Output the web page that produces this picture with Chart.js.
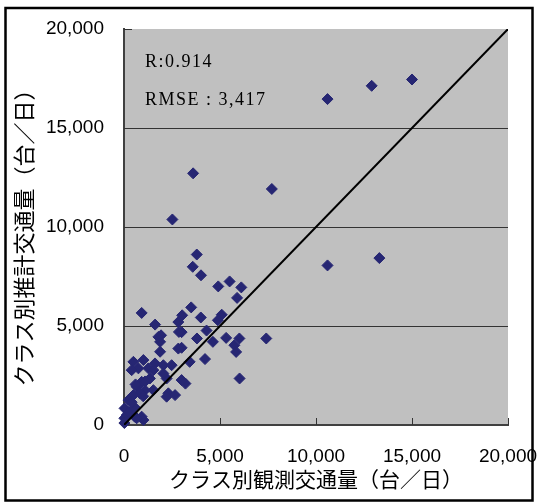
<!DOCTYPE html>
<html lang="ja">
<head>
<meta charset="utf-8">
<title>クラス別観測交通量と推計交通量</title>
<script src="https://cdn.jsdelivr.net/npm/chart.js@4.4.1/dist/chart.umd.min.js"></script>
<style>
  html, body { margin: 0; padding: 0; background: #fff; }
  #wrap { width: 539px; height: 504px; }
</style>
</head>
<body>
<div id="wrap"><canvas id="chart" width="539" height="504"></canvas></div>
<script>
const observed = [
  15000, 12900, 10600, 3600, 7700, 2520, 3790, 3580, 4010, 4910, 5500, 6110, 5890, 10600, 13300,
  3500, 3030, 4000, 5090, 4890, 4300, 3800, 4630, 5320, 6010, 5750, 5840, 7410, 3000, 3000, 3420, 4220, 3200, 6020,
  920, 1620, 1930, 1880, 2830, 2860, 1880, 2830, 2050, 2480, 2220, 2310, 2660,
  490, 750, 400, 1010, 1270, 1350, 920, 660, 1090, 1530, 830, 490, 230, 30, 140, 20, 1010, 20, 920,
  250, 550, 400, 1000, 600, 1100, 560, 2050, 1530, 2220, 1790, 660, 1615, 3000
];
const estimated = [
  17450, 17130, 16460, 12710, 11920, 10380, 8610, 7990, 7560, 7000, 7250, 6950, 6420, 8060, 8430,
  5940, 5540, 5430, 5570, 5290, 4770, 4370, 4200, 4400, 4370, 4030, 3690, 4370, 4690, 3900, 3190, 3330, 2090, 2350,
  5660, 5070, 4530, 4200, 5200, 4700, 3700, 3860, 3020, 3020, 2350, 1600, 1510,
  3190, 2860, 2770, 3280, 2860, 2350, 2180, 1930, 1760, 1760, 1600, 1510, 1260, 840, 500, 340, 250, 100, 420,
  650, 900, 1150, 1450, 2050, 2200, 420, 2600, 2770, 1430, 4450, 340, 3110, 2270
];
const axisTicks = [0, 5000, 10000, 15000, 20000];
const diagonal = [0, 20000];
const statLabels = ['R:0.914', 'RMSE : 3,417'];
const xTitle = 'クラス別観測交通量（台／日）';
const yTitle = 'クラス別推計交通量（台／日）';

const MARKER = '#262673';

// gray plot area + outer frame
const backdrop = {
  id: 'backdrop',
  beforeDraw(chart) {
    const { ctx, chartArea: a } = chart;
    ctx.save();
    ctx.fillStyle = '#fff';
    ctx.fillRect(0, 0, chart.width, chart.height);
    ctx.fillStyle = '#c0c0c0';
    ctx.fillRect(a.left, a.top, a.right - a.left, a.bottom - a.top);
    ctx.restore();
  },
  afterDraw(chart) {
    const { ctx } = chart;
    ctx.save();
    ctx.strokeStyle = '#000';
    ctx.lineWidth = 2.5;
    ctx.strokeRect(5.5, 8, 527, 492.5);
    ctx.restore();
  }
};

// Excel style tick marks pointing into the plot
const innerTicks = {
  id: 'innerTicks',
  beforeDatasetsDraw(chart) {
    const { ctx, chartArea: a, scales } = chart;
    ctx.save();
    ctx.strokeStyle = '#333';
    ctx.lineWidth = 1;
    axisTicks.slice(1).forEach(v => {
      const px = Math.round(scales.x.getPixelForValue(v)) + 0.5;
      ctx.beginPath();
      ctx.moveTo(px, a.bottom);
      ctx.lineTo(px, a.bottom - 7);
      ctx.stroke();
      const py = Math.round(scales.y.getPixelForValue(v)) + 0.5;
      ctx.beginPath();
      ctx.moveTo(a.left, py);
      ctx.lineTo(a.left + 8, py);
      ctx.stroke();
    });
    ctx.restore();
  }
};

// R and RMSE box text
const statsText = {
  id: 'statsText',
  afterDraw(chart) {
    const { ctx, chartArea: a } = chart;
    ctx.save();
    ctx.fillStyle = '#000';
    ctx.font = '18px "Liberation Serif", "DejaVu Serif", serif';
    ctx.letterSpacing = '1.5px';
    ctx.textAlign = 'left';
    ctx.textBaseline = 'alphabetic';
    ctx.fillText(statLabels[0], a.left + 21, a.top + 38);
    ctx.fillText(statLabels[1], a.left + 21, a.top + 76);
    ctx.restore();
  }
};

const tickFont = { family: '"Liberation Sans", Arial, sans-serif', size: 19 };
const jpFont = '"Noto Sans CJK JP", sans-serif';

new Chart(document.getElementById('chart'), {
  type: 'scatter',
  data: {
    datasets: [
      {
        type: 'line',
        data: diagonal.map(v => ({ x: v, y: v })),
        borderColor: '#000',
        borderWidth: 2,
        pointRadius: 0,
        order: 0
      },
      {
        data: observed.map((x, i) => ({ x: x, y: estimated[i] })),
        pointStyle: 'rectRot',
        pointRadius: 5.5,
        backgroundColor: MARKER,
        borderColor: MARKER,
        borderWidth: 1,
        clip: false,
        order: 1
      }
    ]
  },
  options: {
    responsive: false,
    animation: false,
    events: [],
    layout: { padding: { left: 10, right: 31, top: 29, bottom: 12 } },
    plugins: {
      legend: { display: false },
      tooltip: { enabled: false }
    },
    scales: {
      x: {
        type: 'linear',
        min: 0,
        max: 20000,
        afterBuildTicks: s => { s.ticks = axisTicks.map(v => ({ value: v })); },
        afterFit: s => {
          s.height = 67;
          // labels overhang into the layout padding, don't shrink the plot for them
          s.paddingLeft = 0;
          s.paddingRight = 0;
        },
        grid: { display: false, drawTicks: false },
        border: { color: '#404040', width: 2 },
        ticks: {
          color: '#000',
          font: tickFont,
          padding: 20,
          maxRotation: 0,
          autoSkip: false,
          callback: v => v.toLocaleString('en-US')
        },
        title: { display: true, text: xTitle, color: '#000', font: { family: jpFont, size: 21 }, padding: 0 }
      },
      y: {
        type: 'linear',
        min: 0,
        max: 20000,
        afterBuildTicks: s => { s.ticks = axisTicks.map(v => ({ value: v })); },
        afterFit: s => {
          s.width = 114;
          s.paddingTop = 0;
          s.paddingBottom = 0;
        },
        grid: {
          drawTicks: false,
          lineWidth: 1,
          color: c => (c.tick && (c.tick.value === 0 || c.tick.value === 20000)) ? 'rgba(0,0,0,0)' : '#333'
        },
        border: { color: '#404040', width: 2 },
        ticks: {
          color: '#000',
          font: tickFont,
          padding: 20,
          autoSkip: false,
          callback: v => v.toLocaleString('en-US')
        },
        // trailing ideographic space nudges the rotated title down like the original
        title: { display: true, text: yTitle + '\u3000', color: '#000', font: { family: jpFont, size: 22 }, padding: 0 }
      }
    }
  },
  plugins: [backdrop, innerTicks, statsText]
});
</script>
</body>
</html>
